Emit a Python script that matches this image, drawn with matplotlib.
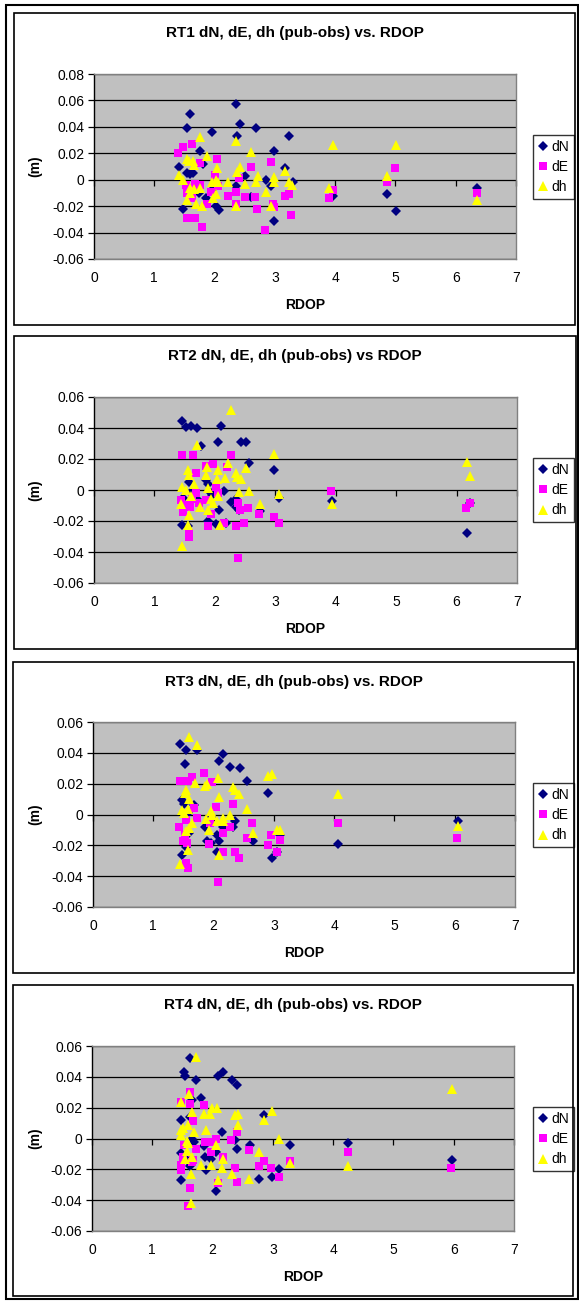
import matplotlib
matplotlib.use("Agg")
import matplotlib.pyplot as plt
from matplotlib.patches import Rectangle

plt.rcParams['font.family'] = ['Liberation Sans', 'DejaVu Sans']

# ---------------- data ----------------
# RT1
rt1_dN_x = [1.41, 1.48, 1.54, 1.59, 1.55, 1.59, 1.64, 1.75, 1.80, 1.95, 1.86, 2.02, 2.07, 1.74, 1.62,
            2.36, 2.37, 2.42, 2.35, 2.51, 2.61, 2.68, 2.85, 2.94, 2.99, 2.98, 3.17, 3.24, 3.30,
            3.97, 4.86, 5.01, 6.35, 1.97]
rt1_dN_y = [0.010, -0.022, 0.039, 0.050, 0.005, 0.004, 0.005, 0.022, 0.012, 0.036, -0.014, -0.020, -0.023, -0.010, -0.007,
            0.057, 0.033, 0.042, -0.005, 0.003, -0.013, 0.039, 0.000, -0.005, 0.022, -0.031, 0.009, 0.033, -0.002,
            -0.012, -0.011, -0.024, -0.006, -0.007]
rt1_dE_x = [1.40, 1.47, 1.63, 1.75, 2.04, 1.53, 1.55, 1.68, 1.79, 1.62, 1.67, 1.75, 1.62, 1.87, 1.94,
            2.01, 2.05, 2.22, 2.36, 2.35, 2.41, 2.50, 2.60, 2.67, 2.71, 2.84, 2.93, 2.97, 2.99, 3.16,
            3.24, 3.27, 3.89, 3.97, 4.86, 5.00, 6.35, 1.55, 1.60]
rt1_dE_y = [0.020, 0.025, 0.027, 0.013, 0.016, -0.004, -0.029, -0.029, -0.036, -0.0065, -0.0035, -0.004, -0.014, -0.018, -0.009,
            0.0035, -0.005, -0.012, -0.009, -0.018, 0.0015, -0.013, 0.0095, -0.013, -0.022, -0.038, 0.0135, -0.018, -0.021, -0.012,
            -0.011, -0.027, -0.014, -0.008, -0.0015, 0.009, -0.010, -0.010, -0.012]
rt1_dh_x = [1.41, 1.47, 1.54, 1.58, 1.64, 1.66, 1.55, 1.59, 1.59, 1.69, 1.75, 1.75, 1.79, 1.87, 1.66,
            1.95, 1.97, 2.04, 2.02, 2.05, 2.02, 2.22, 2.35, 2.38, 2.42, 2.35, 2.51, 2.60, 2.72, 2.68,
            2.85, 2.94, 2.99, 2.98, 3.17, 3.24, 3.28, 3.89, 3.97, 4.86, 5.01, 6.35]
rt1_dh_y = [0.0035, 0.000, 0.016, 0.0145, 0.0145, 0.0115, -0.015, -0.006, -0.010, -0.018, -0.006, 0.032, -0.020, 0.018, -0.007,
            -0.002, -0.014, 0.009, 0.000, -0.002, -0.011, -0.002, 0.029, 0.006, 0.010, -0.020, -0.0035, 0.021, 0.003, -0.002,
            -0.009, -0.020, 0.002, -0.002, 0.0065, -0.002, -0.004, -0.006, 0.026, 0.003, 0.026, -0.015]

# RT2
rt2_dN_x = [1.45, 1.53, 1.61, 1.71, 1.77, 2.10, 2.05, 2.43, 2.51, 2.57, 2.98, 1.46, 1.48, 1.57, 1.60,
            1.71, 1.86, 1.88, 1.88, 1.93, 1.96, 2.02, 2.07, 2.15, 2.18, 2.26, 2.35, 2.35, 2.40, 2.74,
            3.06, 3.94, 6.17, 6.22, 1.56]
rt2_dN_y = [0.0445, 0.0405, 0.041, 0.040, 0.0285, 0.041, 0.031, 0.031, 0.031, 0.0175, 0.013, -0.0225, -0.005, 0.005, -0.001,
            -0.006, 0.0065, 0.004, -0.020, -0.002, -0.003, -0.022, -0.013, -0.0005, -0.021, -0.0075, -0.0055, -0.011, -0.013, -0.0135,
            -0.005, -0.007, -0.028, -0.0085, -0.0235]
rt2_dE_x = [1.45, 1.64, 2.26, 2.20, 1.85, 1.97, 1.69, 1.44, 1.47, 1.58, 1.58, 1.59, 1.69, 1.74, 1.85,
            1.88, 1.93, 2.02, 2.05, 2.15, 2.35, 2.39, 2.41, 2.38, 2.49, 2.55, 2.73, 2.98, 3.06, 3.93,
            6.16, 6.22, 1.62, 1.53]
rt2_dE_y = [0.0227, 0.0227, 0.0227, 0.015, 0.0156, 0.0167, 0.0107, -0.0064, -0.0144, -0.028, -0.030, -0.0107, -0.0017, -0.0086, -0.0064,
            -0.023, -0.0156, 0.0017, -0.002, -0.021, -0.023, -0.0086, -0.013, -0.044, -0.0214, -0.0114, -0.0154, -0.0176, -0.021, -0.0004,
            -0.0114, -0.0086, -0.006, -0.0096]
rt2_dh_x = [1.46, 1.46, 1.44, 1.55, 1.57, 1.53, 1.58, 1.56, 1.60, 1.65, 1.70, 1.76, 1.86, 1.87, 1.88,
            1.89, 1.94, 1.97, 2.04, 2.05, 2.05, 2.09, 2.16, 2.21, 2.26, 2.35, 2.37, 2.43, 2.40, 2.51,
            2.57, 2.74, 2.98, 3.06, 3.94, 6.17, 6.22]
rt2_dh_y = [-0.036, 0.002, -0.009, 0.013, 0.010, 0.000, -0.016, -0.0225, -0.004, 0.004, 0.029, -0.011, 0.0095, 0.015, 0.0015,
            -0.013, -0.006, -0.0085, 0.007, 0.013, -0.004, -0.0225, 0.008, 0.0175, 0.0515, 0.011, 0.0085, 0.007, -0.001, 0.0145,
            -0.0005, -0.009, 0.023, -0.0025, -0.009, 0.018, 0.009]

# RT3
rt3_dN_x = [1.45, 1.54, 1.73, 1.53, 2.16, 2.09, 2.28, 2.44, 2.56, 2.90, 1.48, 1.51, 1.58, 1.67, 1.59,
            1.55, 1.48, 1.86, 1.89, 1.96, 1.96, 2.06, 2.09, 2.06, 2.16, 2.35, 2.33, 2.65, 2.97, 3.05,
            3.11, 4.07, 6.05]
rt3_dN_y = [0.046, 0.042, 0.042, 0.033, 0.039, 0.035, 0.031, 0.030, 0.022, 0.014, 0.0095, 0.007, 0.001, 0.006, -0.012,
            -0.021, -0.0265, -0.008, -0.017, -0.0185, -0.0025, -0.013, -0.017, -0.0245, -0.008, -0.004, -0.008, -0.017, -0.028, -0.024,
            -0.013, -0.019, -0.004]
rt3_dE_x = [1.45, 1.51, 1.57, 1.64, 1.84, 1.98, 1.43, 1.49, 1.52, 1.55, 1.55, 1.57, 1.56, 1.67, 1.72,
            1.92, 1.94, 2.04, 2.08, 2.16, 2.16, 2.28, 2.33, 2.36, 2.43, 2.56, 2.64, 2.90, 2.96, 3.06,
            3.11, 4.07, 6.04]
rt3_dE_y = [0.022, 0.022, 0.022, 0.0245, 0.027, 0.021, -0.008, -0.0175, -0.013, -0.0035, -0.0315, -0.035, -0.0185, 0.004, -0.0025,
            -0.019, -0.0055, 0.005, -0.044, -0.0245, -0.012, -0.008, 0.007, -0.024, -0.028, -0.015, -0.0055, -0.0195, -0.013, -0.0245,
            -0.0165, -0.0055, -0.015]
rt3_dh_x = [1.60, 1.73, 1.69, 1.86, 1.89, 2.07, 2.09, 1.52, 1.55, 1.60, 1.48, 1.51, 1.58, 1.55, 1.59,
            1.57, 1.45, 1.65, 1.87, 1.93, 1.96, 1.98, 2.06, 2.09, 2.16, 2.15, 2.28, 2.33, 2.36, 2.43,
            2.56, 2.65, 2.90, 2.97, 3.06, 3.11, 4.06, 6.05]
rt3_dh_y = [0.050, 0.045, 0.0205, 0.0185, 0.020, 0.0235, 0.0115, 0.014, 0.016, 0.010, 0.003, 0.001, 0.0035, -0.011, -0.009,
            -0.023, -0.032, -0.0055, -0.003, -0.010, 0.002, 0.000, -0.0045, -0.026, -0.0025, -0.0045, 0.000, 0.018, 0.016, 0.013,
            0.0035, -0.012, 0.025, 0.0265, -0.010, -0.010, 0.0135, -0.0075]

# RT4
rt4_dN_x = [1.63, 1.52, 1.54, 1.73, 2.09, 2.18, 2.33, 2.41, 1.81, 1.66, 1.48, 1.63, 2.15, 2.85, 1.66,
            1.69, 1.48, 1.48, 1.63, 1.85, 1.88, 1.89, 1.97, 2.06, 2.05, 2.38, 2.41, 2.62, 2.77, 2.98,
            3.10, 3.29, 4.25, 5.97, 1.57]
rt4_dN_y = [0.052, 0.043, 0.0405, 0.038, 0.0405, 0.043, 0.038, 0.0345, 0.026, 0.025, 0.012, 0.014, 0.004, 0.0155, 0.000,
            -0.002, -0.0095, -0.027, -0.018, -0.005, -0.012, -0.0205, -0.013, -0.0085, -0.034, -0.001, -0.007, -0.0045, -0.026, -0.025,
            -0.0195, -0.004, -0.003, -0.014, -0.014]
rt4_dE_x = [1.47, 1.62, 1.63, 1.68, 1.85, 1.47, 1.48, 1.52, 1.51, 1.60, 1.63, 1.73, 1.68, 1.88, 1.96,
            1.98, 2.05, 2.09, 2.18, 2.31, 2.37, 2.40, 2.40, 2.60, 2.77, 2.85, 2.97, 3.10, 3.29, 4.24,
            5.96, 1.66]
rt4_dE_y = [0.0235, 0.0225, 0.030, 0.0115, 0.0215, -0.017, -0.0205, -0.004, -0.012, -0.0435, -0.032, -0.007, -0.014, -0.002, -0.002,
            -0.0085, 0.000, -0.029, -0.012, -0.001, -0.019, 0.0045, -0.028, -0.0075, -0.018, -0.0145, -0.019, -0.025, -0.0145, -0.0085,
            -0.019, -0.0155]
rt4_dh_x = [1.72, 1.48, 1.61, 1.66, 1.47, 1.51, 1.59, 1.69, 1.48, 1.57, 1.60, 1.54, 1.57, 1.66, 1.65,
            1.65, 1.85, 1.89, 1.96, 1.99, 2.07, 2.06, 1.97, 1.80, 2.09, 2.15, 2.18, 2.33, 2.37, 2.42,
            2.42, 2.61, 2.77, 2.85, 2.98, 3.10, 3.29, 4.25, 5.97]
rt4_dh_y = [0.053, 0.024, 0.029, 0.017, 0.0055, 0.0065, 0.0085, 0.0045, 0.002, -0.0015, -0.003, -0.0135, -0.008, -0.012, -0.023,
            -0.042, 0.016, 0.0055, 0.016, 0.0195, 0.0195, -0.004, -0.017, -0.017, -0.027, -0.019, -0.013, -0.023, 0.015, 0.016,
            0.0085, -0.026, -0.0085, 0.012, 0.018, 0.000, -0.016, -0.018, 0.032]

titles = ["RT1 dN, dE, dh (pub-obs) vs. RDOP",
          "RT2 dN, dE, dh (pub-obs) vs RDOP",
          "RT3 dN, dE, dh (pub-obs) vs. RDOP",
          "RT4 dN, dE, dh (pub-obs) vs. RDOP"]
y_max = [0.08, 0.06, 0.06, 0.06]
series = [
    (rt1_dN_x, rt1_dN_y, rt1_dE_x, rt1_dE_y, rt1_dh_x, rt1_dh_y),
    (rt2_dN_x, rt2_dN_y, rt2_dE_x, rt2_dE_y, rt2_dh_x, rt2_dh_y),
    (rt3_dN_x, rt3_dN_y, rt3_dE_x, rt3_dE_y, rt3_dh_x, rt3_dh_y),
    (rt4_dN_x, rt4_dN_y, rt4_dE_x, rt4_dE_y, rt4_dh_x, rt4_dh_y),
]

# ---------------- layout in pixels ----------------
W, H = 579, 1301
fig = plt.figure(figsize=(W / 100, H / 100), dpi=100)

# plot area (left, top, right, bottom) and panel box (left, top, right, bottom)
plot_px = [(94, 74, 516, 259), (94, 397, 517, 583), (93, 722, 515, 907), (92, 1046, 514, 1231)]
box_px = [(14, 13, 575, 325), (14, 336, 576, 649), (13, 662, 574, 973), (13, 985, 573, 1296)]


def fx(x):
    return x / W


def fy(y):
    return 1 - y / H


# outer frame
fig.patches.append(Rectangle((fx(6), fy(1299)), fx(578) - fx(6), fy(5) - fy(1299),
                             transform=fig.transFigure, fill=False, ec='black', lw=1.5))

for i in range(4):
    l, t, r, b = plot_px[i]
    bl, bt, br, bb = box_px[i]
    fig.patches.append(Rectangle((fx(bl), fy(bb)), fx(br) - fx(bl), fy(bt) - fy(bb),
                                 transform=fig.transFigure, fill=False, ec='black', lw=1.2))

    ax = fig.add_axes([fx(l), fy(b), fx(r) - fx(l), fy(t) - fy(b)])
    ax.set_facecolor('#C0C0C0')
    nx, ny, ex, ey, hx, hy = series[i]
    ym = y_max[i]
    ax.set_xlim(0, 7)
    ax.set_ylim(-0.06, ym)
    yt = [round(-0.06 + 0.02 * k, 2) for k in range(int(round((ym + 0.06) / 0.02)) + 1)]
    ax.set_yticks(yt)
    ax.set_yticklabels(['0' if v == 0 else '%.2f' % v for v in yt])
    ax.set_xticks(range(8))
    for v in yt:
        ax.axhline(v, color='black', lw=0.9, zorder=1)
    # x axis crosses at 0, tick marks downward
    ax.plot(range(8), [0] * 8, ls='none', marker=3, ms=4, mew=0.9, color='black', zorder=1, clip_on=False)

    ax.plot(nx, ny, ls='none', marker='D', ms=5.2, color='#000080', mew=0, label='dN', zorder=3)
    ax.plot(ex, ey, ls='none', marker='s', ms=5.6, color='#FF00FF', mew=0, label='dE', zorder=3)
    ax.plot(hx, hy, ls='none', marker='^', ms=6.8, color='#FFFF00', mew=0, label='dh', zorder=3)

    for s in ['top', 'right', 'bottom']:
        ax.spines[s].set_color('#808080')
        ax.spines[s].set_linewidth(1.0)
    ax.spines['left'].set_color('black')
    ax.spines['left'].set_linewidth(1.0)
    ax.tick_params(axis='y', direction='out', length=4, width=0.9, pad=3, labelsize=10)
    ax.tick_params(axis='x', length=0, pad=9, labelsize=10)

    ax.set_xlabel('RDOP', fontsize=10, fontweight='bold', labelpad=9)
    ax.set_ylabel('(m)', fontsize=10, fontweight='bold')
    ax.yaxis.set_label_coords((42 - l) / (r - l), 0.5)

    leg_top = 1 - (plot_px[i][1] + 61 - t) / (b - t)
    leg = ax.legend(loc='upper left', bbox_to_anchor=((533 - l) / (r - l), leg_top), borderaxespad=0,
                    fontsize=10, frameon=True, fancybox=False, handlelength=0.7, handletextpad=0.3,
                    borderpad=0.35, labelspacing=0.45)
    leg.get_frame().set_edgecolor('black')
    leg.get_frame().set_linewidth(1.0)
    leg.get_frame().set_facecolor('white')

    fig.text(fx((bl + br) / 2), fy(bt + 20), titles[i], ha='center', va='center',
             fontsize=11, fontweight='bold')

fig.savefig('out.png', dpi=100)
